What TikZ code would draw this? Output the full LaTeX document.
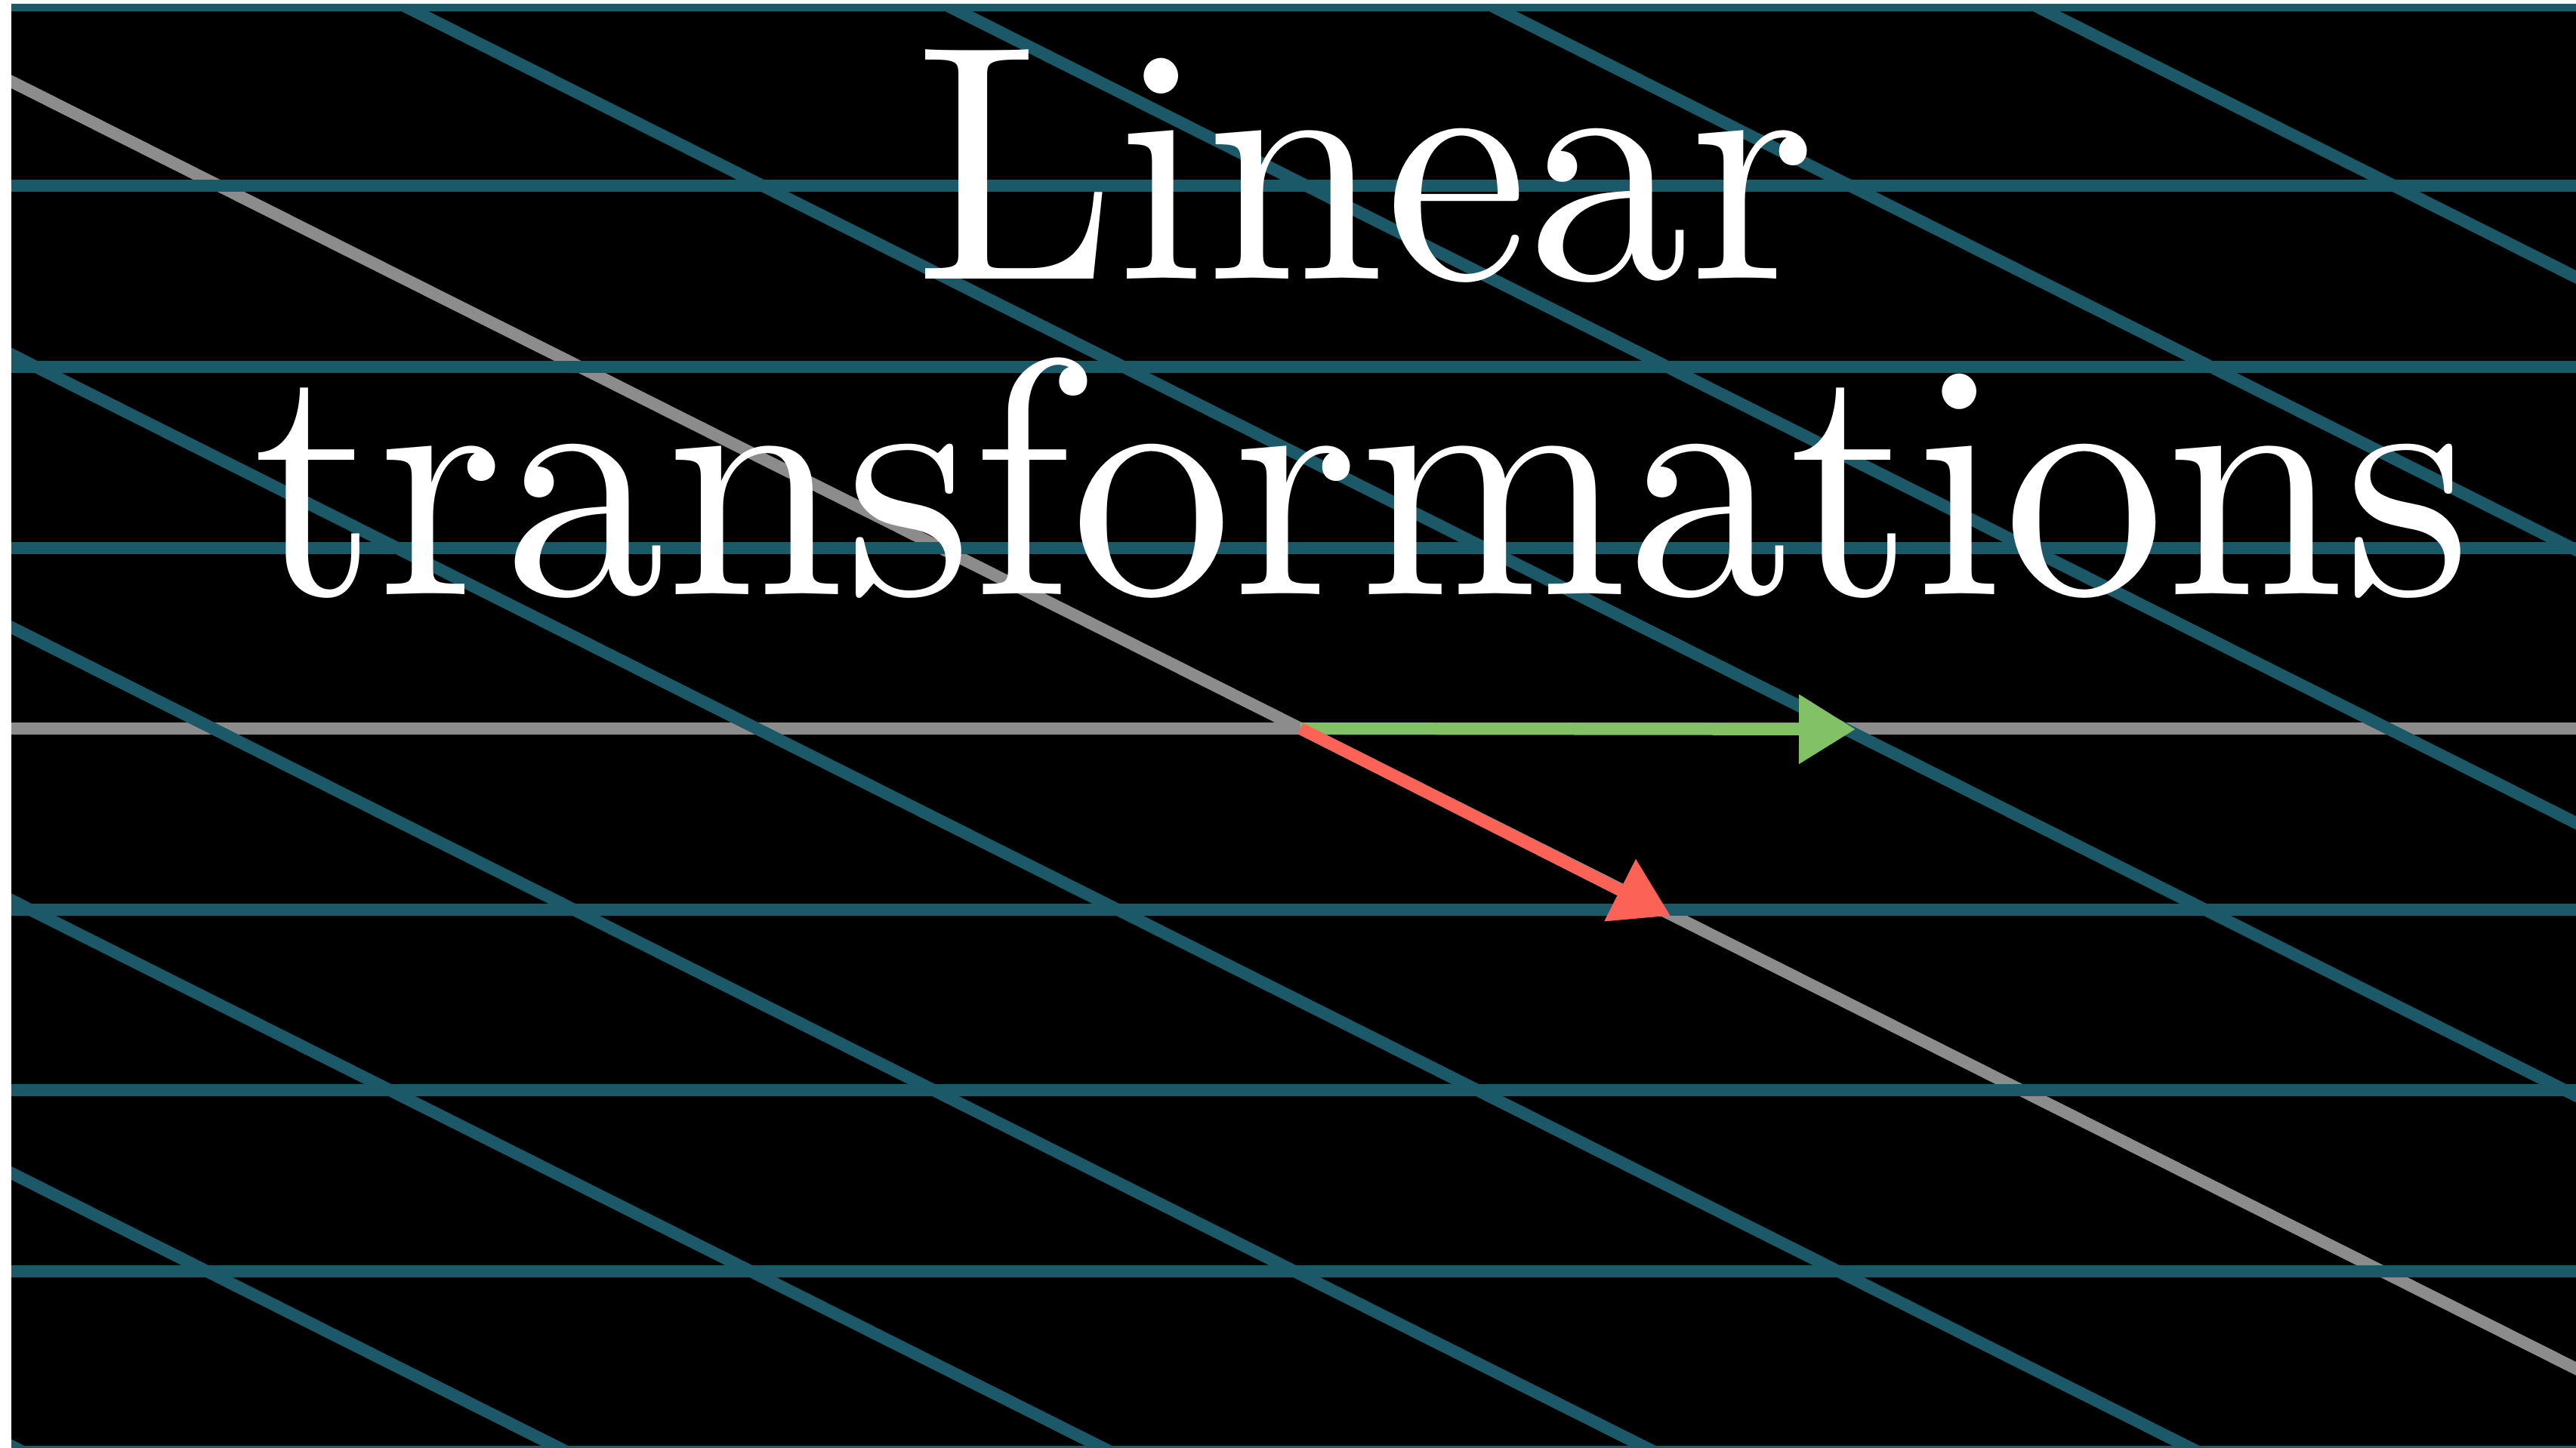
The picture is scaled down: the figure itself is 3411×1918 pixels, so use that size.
\documentclass[tikz,border=0pt]{standalone}
\usepackage{fontspec}
\newfontfamily\lmten{lmroman10-regular}[Extension=.otf]
\usetikzlibrary{arrows.meta}
\definecolor{gridteal}{RGB}{28,89,104}
\definecolor{axisgray}{RGB}{140,140,140}
\definecolor{vgreen}{HTML}{83C167}
\definecolor{vred}{HTML}{FC6255}
\begin{document}
\begin{tikzpicture}[x=0.1mm,y=-0.1mm,
  gridline/.style={draw=gridteal,line width=1.6mm},
  axisline/.style={draw=axisgray,line width=1.6mm},
  vec/.style={line width=1.6mm,-{Triangle[length=7.5mm,width=8.8mm]}},
  titletext/.style={text=white,font=\lmten\fontsize{126.6}{150}\selectfont,inner sep=0pt,anchor=base}]
\useasboundingbox (0,0) rectangle (3411,1918);
\fill[white] (0,0) rectangle (3411,1918);
\fill[black] (15,6) rectangle (3411,1918);
\begin{scope}
\clip (15,6) rectangle (3411,1918);
% axes
\draw[axisline] (-300,965) -- (3700,965);
\draw[axisline] (1722-2200,965-1104.4) -- (1722+2200,965+1104.4);
% horizontal grid lines
\foreach \k in {-4,-3,-2,-1,1,2,3,4}
  \draw[gridline] (-300,965+239.5*\k) -- (3700,965+239.5*\k);
% slanted grid lines
\foreach \n in {-8,...,-1,1,2,3,4,5}
  \draw[gridline] (1722+720*\n-2200,965-1104.4) -- (1722+720*\n+2200,965+1104.4);
\end{scope}
% vectors
\coordinate (O) at (1722,965);
\coordinate (I) at (2457,966);
\coordinate (J) at (2212,1213);
\draw[vec,vgreen] (O) -- (I);
\draw[vec,vred] (O) -- (J);
% title
\node[titletext] (line1) at (1808,370) {\scalebox{0.96}[1]{Linear}};
\node[titletext] (line2) at (1804,787) {\scalebox{0.96}[1]{transformations}};
\end{tikzpicture}
\end{document}
